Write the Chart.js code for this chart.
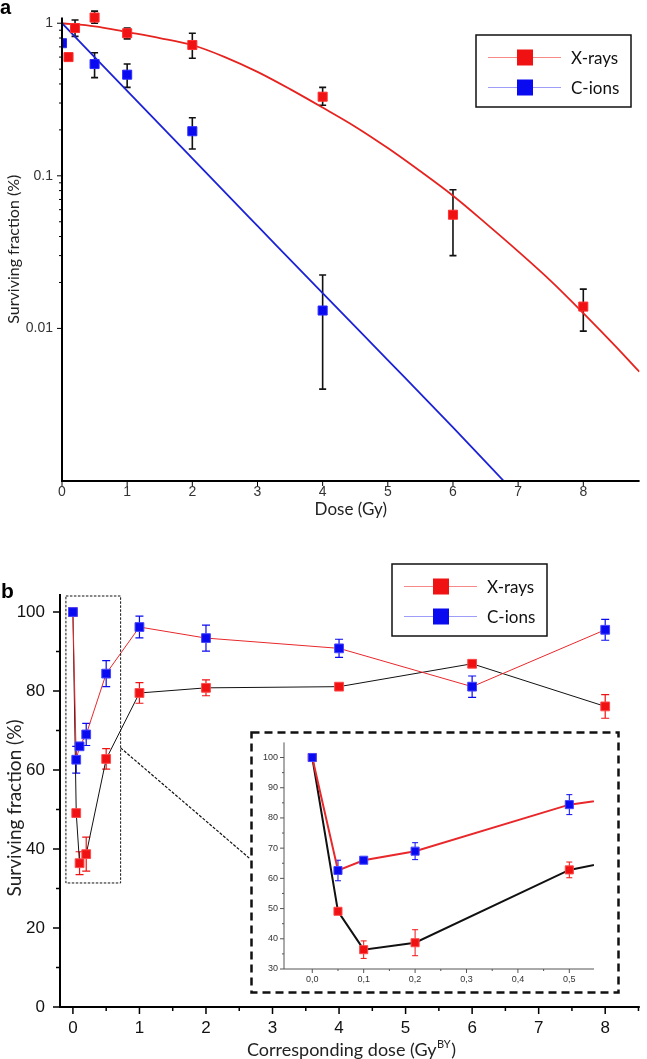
<!DOCTYPE html>
<html>
<head>
<meta charset="utf-8">
<script src="https://cdn.jsdelivr.net/npm/chart.js@4.4.0/dist/chart.umd.min.js"></script>
<style>
  html, body { margin: 0; padding: 0; background: #fff; }
  #wrap { position: relative; width: 647px; height: 1059px; overflow: hidden; }
  canvas { position: absolute; }
</style>
</head>
<body>
<div id="wrap">
  <canvas id="chartA" width="647" height="530" style="left:0;top:0"></canvas>
  <canvas id="chartB" width="647" height="529" style="left:0;top:530px"></canvas>
  <canvas id="chartC" width="370" height="263" style="left:250px;top:731px"></canvas>
</div>
<script>
// --- panel a : survival curves (log scale) ---
const seriesNames = ['X-rays', 'C-ions'];

const aXrayDose = [0.1, 0.2, 0.5, 1, 2, 4, 6, 8];
const aXraySF   = [0.6, 0.93, 1.09, 0.86, 0.72, 0.33, 0.0556, 0.0139];
const aXrayLo   = [0.58, 0.82, 1.0, 0.79, 0.59, 0.29, 0.030, 0.0096];
const aXrayHi   = [0.62, 1.05, 1.2, 0.93, 0.86, 0.38, 0.081, 0.0181];

const aCionDose = [0, 0.5, 1, 2, 4];
const aCionSF   = [0.74, 0.54, 0.46, 0.196, 0.0131];
const aCionLo   = [0.74, 0.44, 0.38, 0.15, 0.004];
const aCionHi   = [0.74, 0.64, 0.54, 0.24, 0.0224];

// fitted curves
const aXrayFitDose = [0, 0.5, 1, 1.5, 2, 2.5, 3, 3.5, 4, 4.5, 5, 5.5, 6, 6.5, 7, 7.5, 8, 8.5, 8.86];
const aXrayFitSF   = [1, 0.955, 0.875, 0.8, 0.72, 0.6, 0.48, 0.37, 0.28, 0.21, 0.152, 0.107,
                      0.074, 0.049, 0.032, 0.0205, 0.0126, 0.0076, 0.0052];
const aCionFitDose = [0, 1, 2, 3, 4, 5, 6, 6.78];
const aCionFitSF   = [1, 0.36, 0.13, 0.047, 0.017, 0.0062, 0.00225, 0.001];

const aXTicks = [0, 1, 2, 3, 4, 5, 6, 7, 8];
const aYTicks = [0.01, 0.1, 1];
const aYMinor = [0.02, 0.03, 0.04, 0.05, 0.06, 0.07, 0.08, 0.09, 0.2, 0.3, 0.4, 0.5, 0.6, 0.7, 0.8, 0.9];

// --- panel b : surviving fraction vs corresponding dose ---
const bDose     = [0, 0.05, 0.1, 0.2, 0.5, 1, 2, 4, 6, 8];
const bCionSF   = [100, 62.6, 66, 69, 84.4, 96.2, 93.4, 90.8, 81.1, 95.5];
const bCionErr  = [0, 3.4, 0.8, 2.8, 3.3, 2.75, 3.3, 2.3, 2.7, 2.65];
const bXraySF   = [100, 49.1, 36.4, 38.7, 62.8, 79.5, 80.8, 81.1, 86.9, 76.1];
const bXrayErr  = [0, 0.8, 2.9, 4.3, 2.6, 2.6, 2.0, 0.6, 0.8, 3.0];

const bXTicks = [0, 1, 2, 3, 4, 5, 6, 7, 8];
const bXMinor = [0.5, 1.5, 2.5, 3.5, 4.5, 5.5, 6.5, 7.5, 8.5];
const bYTicks = [0, 20, 40, 60, 80, 100];
const bYMinor = [10, 30, 50, 70, 90];

const cXTicks = [0, 0.1, 0.2, 0.3, 0.4, 0.5];
const cXMinor = [0.05, 0.15, 0.25, 0.35, 0.45];
const cYTicks = [30, 40, 50, 60, 70, 80, 90, 100];
const cYMinor = [35, 45, 55, 65, 75, 85, 95];

const RED = '#f01212';
const BLUE = '#0a0af0';

const pts = (xs, ys) => xs.map((x, i) => ({ x: x, y: ys[i] }));

function errPlugin(sets) {
  return {
    id: 'errbars',
    beforeDatasetsDraw(chart) {
      const { ctx, scales: { x, y } } = chart;
      sets.forEach(s => {
        ctx.save();
        ctx.strokeStyle = s.color;
        ctx.lineWidth = s.width;
        ctx.beginPath();
        s.x.forEach((xv, i) => {
          if (xv < x.min || xv > x.max || s.lo[i] === s.hi[i]) return;
          const px = x.getPixelForValue(xv);
          const p1 = y.getPixelForValue(s.lo[i]);
          const p2 = y.getPixelForValue(s.hi[i]);
          ctx.moveTo(px, p1); ctx.lineTo(px, p2);
          ctx.moveTo(px - s.cap, p1); ctx.lineTo(px + s.cap, p1);
          ctx.moveTo(px - s.cap, p2); ctx.lineTo(px + s.cap, p2);
        });
        ctx.stroke();
        ctx.restore();
      });
    }
  };
}

function axesPlugin(cfg) {
  return {
    id: 'axes',
    afterDraw(chart) {
      const { ctx, chartArea: a, scales: { x, y } } = chart;
      ctx.save();
      ctx.strokeStyle = cfg.color;
      ctx.lineWidth = cfg.width;
      ctx.beginPath();
      ctx.moveTo(a.left, a.top);
      ctx.lineTo(a.left, a.bottom);
      ctx.lineTo(a.right, a.bottom);
      ctx.stroke();
      ctx.lineWidth = cfg.tickWidth;
      ctx.beginPath();
      const xt = (vals, len) => vals.forEach(v => {
        const px = x.getPixelForValue(v);
        if (px < a.left - 0.5 || px > a.right + 0.5) return;
        ctx.moveTo(px, a.bottom); ctx.lineTo(px, a.bottom + len);
      });
      const yt = (vals, len) => vals.forEach(v => {
        const py = y.getPixelForValue(v);
        if (py < a.top - 0.5 || py > a.bottom + 0.5) return;
        ctx.moveTo(a.left, py); ctx.lineTo(a.left - len, py);
      });
      xt(cfg.xMajor, cfg.majLen); xt(cfg.xMinor, cfg.minLen);
      yt(cfg.yMajor, cfg.majLen); yt(cfg.yMinor, cfg.minLen);
      ctx.stroke();
      ctx.restore();
    }
  };
}

function drawLegend(ctx, bx, by) {
  const items = [
    { label: seriesNames[0], line: 'rgba(240,40,40,0.55)', fill: RED, dy: 22.5 },
    { label: seriesNames[1], line: 'rgba(40,40,240,0.45)', fill: BLUE, dy: 52.5 }
  ];
  ctx.save();
  ctx.fillStyle = '#fff';
  ctx.fillRect(bx, by, 155, 72);
  ctx.strokeStyle = '#111';
  ctx.lineWidth = 1.5;
  ctx.strokeRect(bx, by, 155, 72);
  items.forEach(it => {
    const yy = by + it.dy;
    ctx.strokeStyle = it.line;
    ctx.lineWidth = 1.2;
    ctx.beginPath();
    ctx.moveTo(bx + 12, yy); ctx.lineTo(bx + 85, yy);
    ctx.stroke();
    ctx.fillStyle = it.fill;
    ctx.fillRect(bx + 41, yy - 8, 16, 16);
    ctx.fillStyle = '#111';
    ctx.font = '17px Lato';
    ctx.textBaseline = 'middle';
    ctx.textAlign = 'left';
    ctx.fillText(it.label, bx + 95, yy + 1);
  });
  ctx.restore();
}

const noGrid = { display: false, drawTicks: false, tickLength: 0 };

// ---------- chart a ----------
new Chart(document.getElementById('chartA'), {
  type: 'scatter',
  data: {
    datasets: [
      { label: seriesNames[1], data: pts(aCionDose, aCionSF), pointStyle: 'rect', pointRadius: 6.4,
        backgroundColor: BLUE, borderColor: '#2a2aff', borderWidth: 1,
        clip: { left: 0, top: false, right: false, bottom: false } },
      { label: seriesNames[0], data: pts(aXrayDose, aXraySF), pointStyle: 'rect', pointRadius: 6.4,
        backgroundColor: RED, borderColor: '#ff3030', borderWidth: 1, clip: false },
      { data: pts(aCionFitDose, aCionFitSF), showLine: true, borderColor: '#1c22d6', borderWidth: 1.8,
        pointRadius: 0, cubicInterpolationMode: 'monotone' },
      { data: pts(aXrayFitDose, aXrayFitSF), showLine: true, borderColor: '#e6231f', borderWidth: 1.8,
        pointRadius: 0, cubicInterpolationMode: 'monotone' }
    ]
  },
  options: {
    responsive: false,
    animation: false,
    layout: { padding: { left: 0, top: 5, right: 0, bottom: 0 } },
    plugins: { legend: { display: false }, tooltip: { enabled: false } },
    scales: {
      x: {
        type: 'linear', min: 0, max: 8.864,
        grid: noGrid, border: { display: false },
        ticks: { padding: 3, autoSkip: false, maxRotation: 0, color: '#333',
                 font: { family: "'Liberation Sans Narrow', 'Liberation Sans'", size: 14 } },
        afterBuildTicks: s => { s.ticks = aXTicks.map(v => ({ value: v })); },
        afterFit: s => { s.height = 49; },
        title: { display: true, text: 'Dose (Gy)', color: '#222',
                 font: { family: 'Lato', size: 17 }, padding: { top: 0, bottom: 10 } }
      },
      y: {
        type: 'logarithmic', min: 0.001, max: 1.092,
        grid: noGrid, border: { display: false },
        ticks: { padding: 9, autoSkip: false, color: '#333',
                 font: { family: "'Liberation Sans Narrow', 'Liberation Sans'", size: 14 },
                 callback: v => String(v) },
        afterBuildTicks: s => { s.ticks = aYTicks.map(v => ({ value: v })); },
        afterFit: s => { s.width = 62; },
        title: { display: true, text: 'Surviving fraction (%)', color: '#222',
                 font: { family: 'Lato', size: 16 }, padding: { top: 4, bottom: 0 } }
      }
    }
  },
  plugins: [
    errPlugin([
      { x: aXrayDose, lo: aXrayLo, hi: aXrayHi, color: '#111', width: 1.6, cap: 3.5 },
      { x: aCionDose, lo: aCionLo, hi: aCionHi, color: '#111', width: 1.6, cap: 3.5 }
    ]),
    axesPlugin({ color: '#000', width: 2, tickWidth: 1, majLen: 5, minLen: 3,
                 xMajor: aXTicks, xMinor: [], yMajor: aYTicks, yMinor: aYMinor }),
    {
      id: 'decoA',
      afterDraw(chart) {
        const ctx = chart.ctx;
        drawLegend(ctx, 476, 35);
        ctx.save();
        ctx.fillStyle = '#000';
        ctx.font = 'bold 20px "Liberation Sans"';
        ctx.textBaseline = 'alphabetic';
        ctx.fillText('a', 0, 14);
        ctx.restore();
      }
    }
  ]
});

// ---------- chart b ----------
function bSets(lw, r) {
  return [
    { label: seriesNames[1], data: pts(bDose, bCionSF), showLine: true, tension: 0,
      borderColor: '#e8282b', borderWidth: lw,
      pointStyle: 'rect', pointRadius: r, pointBackgroundColor: BLUE,
      pointBorderColor: '#4646ff', pointBorderWidth: 1 },
    { label: seriesNames[0], data: pts(bDose, bXraySF), showLine: true, tension: 0,
      borderColor: '#111', borderWidth: lw,
      pointStyle: 'rect', pointRadius: r, pointBackgroundColor: RED,
      pointBorderColor: '#ff4a4a', pointBorderWidth: 1 }
  ];
}
const bCionLo = bCionSF.map((v, i) => v - bCionErr[i]);
const bCionHi = bCionSF.map((v, i) => v + bCionErr[i]);
const bXrayLo = bXraySF.map((v, i) => v - bXrayErr[i]);
const bXrayHi = bXraySF.map((v, i) => v + bXrayErr[i]);

new Chart(document.getElementById('chartB'), {
  type: 'scatter',
  data: { datasets: bSets(1, 6.2) },
  options: {
    responsive: false,
    animation: false,
    layout: { padding: { left: 0, top: 64, right: 4, bottom: 0 } },
    plugins: { legend: { display: false }, tooltip: { enabled: false } },
    scales: {
      x: {
        type: 'linear', min: -0.194, max: 8.52,
        grid: noGrid, border: { display: false },
        ticks: { padding: 11, autoSkip: false, maxRotation: 0, color: '#111',
                 font: { family: "'Liberation Sans'", size: 17 } },
        afterBuildTicks: s => { s.ticks = bXTicks.map(v => ({ value: v })); },
        afterFit: s => { s.height = 52; }
      },
      y: {
        type: 'linear', min: 0, max: 104.56,
        grid: noGrid, border: { display: false },
        ticks: { padding: 15, autoSkip: false, color: '#111',
                 font: { family: "'Liberation Sans'", size: 17 } },
        afterBuildTicks: s => { s.ticks = bYTicks.map(v => ({ value: v })); },
        afterFit: s => { s.width = 60; }
      }
    }
  },
  plugins: [
    errPlugin([
      { x: bDose, lo: bXrayLo, hi: bXrayHi, color: RED, width: 1.2, cap: 4 },
      { x: bDose, lo: bCionLo, hi: bCionHi, color: BLUE, width: 1.2, cap: 4 }
    ]),
    axesPlugin({ color: '#000', width: 2, tickWidth: 1.5, majLen: 7, minLen: 4,
                 xMajor: bXTicks, xMinor: bXMinor, yMajor: bYTicks, yMinor: bYMinor }),
    {
      id: 'decoB',
      afterDraw(chart) {
        const { ctx, scales: { x, y } } = chart;
        ctx.save();
        // zoom window around the low doses
        ctx.strokeStyle = '#111';
        ctx.lineWidth = 1;
        ctx.setLineDash([2.5, 1.5]);
        const rx1 = x.getPixelForValue(-0.105), rx2 = x.getPixelForValue(0.717);
        const ry1 = y.getPixelForValue(104.05), ry2 = y.getPixelForValue(31.4);
        ctx.strokeRect(rx1, ry1, rx2 - rx1, ry2 - ry1);
        // connector towards the inset
        ctx.setLineDash([3, 1.5]);
        ctx.lineWidth = 1.2;
        ctx.beginPath();
        ctx.moveTo(x.getPixelForValue(0.717), y.getPixelForValue(65.6));
        ctx.lineTo(x.getPixelForValue(2.65), y.getPixelForValue(37.7));
        ctx.stroke();
        ctx.setLineDash([]);
        ctx.restore();

        drawLegend(ctx, 392, 34);

        ctx.save();
        ctx.fillStyle = '#000';
        ctx.font = 'bold 21px "Liberation Sans"';
        ctx.textBaseline = 'alphabetic';
        ctx.fillText('b', 1, 68);

        // axis titles
        ctx.fillStyle = '#222';
        ctx.font = '19px Lato';
        ctx.textAlign = 'center';
        ctx.textBaseline = 'middle';
        ctx.save();
        ctx.translate(15, 278);
        ctx.rotate(-Math.PI / 2);
        ctx.fillText('Surviving fraction (%)', 0, 0);
        ctx.restore();

        const main = 'Corresponding dose (Gy', sup = 'BY', end = ')';
        ctx.font = '18px Lato';
        const w1 = ctx.measureText(main).width, w3 = ctx.measureText(end).width;
        ctx.font = '11px Lato';
        const w2 = ctx.measureText(sup).width;
        let tx = 351 - (w1 + w2 + w3) / 2;
        ctx.textAlign = 'left';
        ctx.font = '18px Lato';
        ctx.fillText(main, tx, 520);
        ctx.font = '11px Lato';
        ctx.fillText(sup, tx + w1 + 0.5, 514);
        ctx.font = '18px Lato';
        ctx.fillText(end, tx + w1 + w2 + 1, 520);
        ctx.restore();
      }
    }
  ]
});

// ---------- inset c ----------
new Chart(document.getElementById('chartC'), {
  type: 'scatter',
  data: { datasets: bSets(2, 5.7) },
  options: {
    responsive: false,
    animation: false,
    layout: { padding: { left: 0, top: 11, right: 26, bottom: 0 } },
    plugins: { legend: { display: false }, tooltip: { enabled: false } },
    scales: {
      x: {
        type: 'linear', min: -0.055, max: 0.548,
        grid: noGrid, border: { display: false },
        ticks: { padding: 5, autoSkip: false, maxRotation: 0, color: '#333',
                 font: { family: "'Liberation Sans'", size: 9 },
                 callback: v => v.toFixed(1).replace('.', ',') },
        afterBuildTicks: s => { s.ticks = cXTicks.map(v => ({ value: v })); },
        afterFit: s => { s.height = 25; }
      },
      y: {
        type: 'linear', min: 30, max: 105,
        grid: noGrid, border: { display: false },
        ticks: { padding: 6, autoSkip: false, color: '#333',
                 font: { family: "'Liberation Sans'", size: 9 } },
        afterBuildTicks: s => { s.ticks = cYTicks.map(v => ({ value: v })); },
        afterFit: s => { s.width = 34; }
      }
    }
  },
  plugins: [
    {
      id: 'bgC',
      beforeDraw(chart) {
        const ctx = chart.ctx;
        ctx.save();
        ctx.fillStyle = '#fff';
        ctx.fillRect(0, 0, chart.width, chart.height);
        ctx.restore();
      },
      afterDraw(chart) {
        const ctx = chart.ctx;
        ctx.save();
        ctx.strokeStyle = '#111';
        ctx.lineWidth = 2.5;
        ctx.setLineDash([8, 5]);
        ctx.strokeRect(1.5, 1.5, chart.width - 3, chart.height - 3);
        ctx.restore();
      }
    },
    errPlugin([
      { x: bDose, lo: bXrayLo, hi: bXrayHi, color: RED, width: 1, cap: 3 },
      { x: bDose, lo: bCionLo, hi: bCionHi, color: BLUE, width: 1, cap: 3 }
    ]),
    axesPlugin({ color: '#555', width: 1, tickWidth: 1, majLen: 4, minLen: 2,
                 xMajor: cXTicks, xMinor: cXMinor, yMajor: cYTicks, yMinor: cYMinor })
  ]
});
</script>
</body>
</html>
